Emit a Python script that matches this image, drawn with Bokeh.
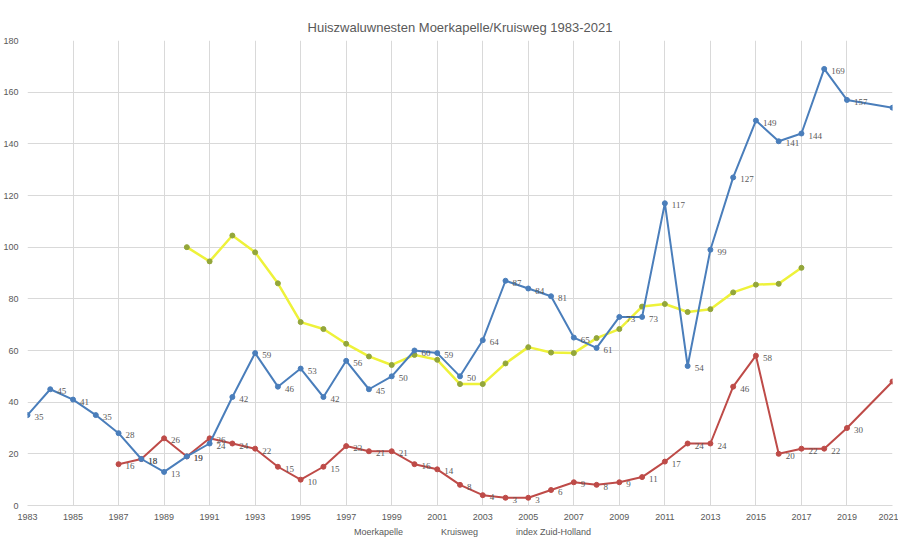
from bokeh.plotting import figure
from bokeh.layouts import column
from bokeh.models import (ColumnDataSource, LabelSet, FixedTicker, Legend, LegendItem, Range1d)
from bokeh.embed import file_html
from bokeh.resources import INLINE

title_text = "Huiszwaluwnesten Moerkapelle/Kruisweg 1983-2021"

moer_years = [1983, 1984, 1985, 1986, 1987, 1988, 1989, 1990, 1991, 1992, 1993, 1994, 1995,
              1996, 1997, 1998, 1999, 2000, 2001, 2002, 2003, 2004, 2005, 2006, 2007, 2008,
              2009, 2010, 2011, 2012, 2013, 2014, 2015, 2016, 2017, 2018, 2019, 2021]
moer_values = [35, 45, 41, 35, 28, 18, 13, 19, 24, 42, 59, 46, 53,
               42, 56, 45, 50, 60, 59, 50, 64, 87, 84, 81, 65, 61,
               73, 73, 117, 54, 99, 127, 149, 141, 144, 169, 157, 154]

kruis_years = [1987, 1988, 1989, 1990, 1991, 1992, 1993, 1994, 1995, 1996, 1997, 1998,
               1999, 2000, 2001, 2002, 2003, 2004, 2005, 2006, 2007, 2008, 2009, 2010,
               2011, 2012, 2013, 2014, 2015, 2016, 2017, 2018, 2019, 2021]
kruis_values = [16, 18, 26, 19, 26, 24, 22, 15, 10, 15, 23, 21,
                21, 16, 14, 8, 4, 3, 3, 6, 9, 8, 9, 11,
                17, 24, 24, 46, 58, 20, 22, 22, 30, 48]

zh_years = [1990, 1991, 1992, 1993, 1994, 1995, 1996, 1997, 1998, 1999, 2000, 2001, 2002,
            2003, 2004, 2005, 2006, 2007, 2008, 2009, 2010, 2011, 2012, 2013, 2014, 2015,
            2016, 2017]
zh_values = [100, 94.5, 104.5, 98, 86, 71, 68.3, 62.6, 57.7, 54.4, 58.3, 56.4, 47,
             47, 55, 61.3, 59.2, 59, 64.8, 68.3, 77, 78, 74.9, 76, 82.5, 85.5,
             85.8, 92]

x_ticks = list(range(1983, 2022, 2))
y_ticks = [0, 20, 40, 60, 80, 100, 120, 140, 160, 180]

series_names = ["Moerkapelle", "Kruisweg", "index Zuid-Holland"]

FONT = "Liberation Sans"
TXT = "#595959"
GRID = "#d9d9d9"
BLUE = "#4a7ebb"
RED = "#be4b48"
YELLOW = "#eef23a"
OLIVE = "#93a63a"

p = figure(frame_width=865, frame_height=465, output_backend="svg", toolbar_location=None,
           x_range=Range1d(1983, 2021), y_range=Range1d(0, 180),
           min_border_left=26, min_border_right=6, min_border_top=40, min_border_bottom=20)
p.outline_line_color = None

p.title.text = title_text
p.title.align = "center"
p.title.text_font = FONT
p.title.text_font_size = "13px"
p.title.text_font_style = "normal"
p.title.text_color = TXT
p.title.standoff = 12

p.xaxis.ticker = FixedTicker(ticks=x_ticks)
p.yaxis.ticker = FixedTicker(ticks=y_ticks)
p.xgrid.ticker = FixedTicker(ticks=x_ticks)
p.ygrid.ticker = FixedTicker(ticks=y_ticks)
for g in (p.xgrid, p.ygrid):
    g.grid_line_color = GRID
    g.grid_line_width = 1

for ax in (p.xaxis, p.yaxis):
    ax.major_tick_line_color = None
    ax.minor_tick_line_color = None
    ax.major_tick_out = 0
    ax.major_tick_in = 0
    ax.major_label_text_font = FONT
    ax.major_label_text_font_size = "9px"
    ax.major_label_text_color = TXT
p.yaxis.axis_line_color = None
p.xaxis.axis_line_color = GRID
p.xaxis.major_label_standoff = 8
p.yaxis.major_label_standoff = 9

src_m = ColumnDataSource(dict(x=moer_years, y=moer_values, t=[str(v) for v in moer_values]))
src_k = ColumnDataSource(dict(x=kruis_years, y=kruis_values, t=[str(v) for v in kruis_values]))
src_z = ColumnDataSource(dict(x=zh_years, y=zh_values))

p.line("x", "y", source=src_z, line_color=YELLOW, line_width=2.5)
p.scatter("x", "y", source=src_z, size=5, fill_color=OLIVE, line_color=OLIVE)
p.line("x", "y", source=src_k, line_color=RED, line_width=2)
p.scatter("x", "y", source=src_k, size=5, fill_color=RED, line_color=RED)
p.line("x", "y", source=src_m, line_color=BLUE, line_width=2)
p.scatter("x", "y", source=src_m, size=5, fill_color=BLUE, line_color=BLUE)

for s in (src_m, src_k):
    p.add_layout(LabelSet(x="x", y="y", text="t", source=s, x_offset=7, y_offset=-2,
                          text_font=FONT, text_font_size="9px", text_color=TXT,
                          text_baseline="middle", text_align="left"))

# Legend strip below the chart (empty glyphs only serve as legend swatches)
lg = figure(frame_width=865, frame_height=14, output_backend="svg", toolbar_location=None,
            x_range=Range1d(0, 1), y_range=Range1d(0, 1),
            x_axis_location=None, y_axis_location=None,
            min_border_left=26, min_border_right=6, min_border_top=0, min_border_bottom=0)
lg.outline_line_color = None
lg.xgrid.visible = False
lg.ygrid.visible = False
empty = dict(x=[], y=[])
items = []
for name, lc, mc, lw in zip(series_names, [BLUE, RED, YELLOW], [BLUE, RED, OLIVE], [2, 2, 2.5]):
    es = ColumnDataSource(dict(empty))
    r1 = lg.line("x", "y", source=es, line_color=lc, line_width=lw)
    r2 = lg.scatter("x", "y", source=es, size=5, fill_color=mc, line_color=mc)
    items.append(LegendItem(label=name, renderers=[r1, r2]))

legend = Legend(items=items, orientation="horizontal", location="center",
                label_text_font=FONT, label_text_font_size="9px", label_text_color=TXT,
                glyph_width=22, glyph_height=10, label_height=10, label_standoff=4,
                spacing=12, padding=0, margin=0, border_line_color=None,
                background_fill_alpha=0)
lg.add_layout(legend, "center")

layout = column(p, lg, spacing=0)
open("out.html", "w").write(file_html(layout, INLINE))
